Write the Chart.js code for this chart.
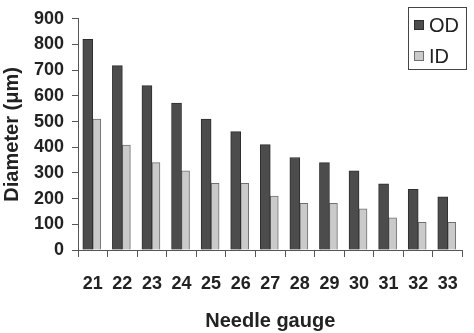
<!DOCTYPE html>
<html>
<head>
<meta charset="utf-8">
<script src="https://cdn.jsdelivr.net/npm/chart.js"></script>
<style>
  html, body { margin: 0; padding: 0; background: #fff; }
  #wrap { width: 474px; height: 333px; position: relative; }
</style>
</head>
<body>
<div id="wrap"><canvas id="chart"></canvas></div>
<script>
// Needle gauge vs diameter
const gauges = ["21", "22", "23", "24", "25", "26", "27", "28", "29", "30", "31", "32", "33"]
const outerDiameter = [820, 718, 640, 572, 510, 461, 410, 360, 340, 308, 258, 236, 207]
const innerDiameter = [510, 408, 340, 308, 260, 260, 210, 182, 182, 160, 125, 108, 108]
const seriesNames = ["OD", "ID"]
const yTicks = [0, 100, 200, 300, 400, 500, 600, 700, 800, 900]

const FONT = "'Liberation Sans', Arial, sans-serif"
const AXIS = "#555"

// legend drawn inside the plot, top right, with a frame
const boxLegend = {
  id: "boxLegend",
  afterDraw(chart) {
    const ctx = chart.ctx
    const x = 408, y = 7, w = 58, h = 62
    ctx.save()
    ctx.fillStyle = "#fff"
    ctx.fillRect(x, y, w, h)
    ctx.strokeStyle = "#444"
    ctx.lineWidth = 1
    ctx.strokeRect(x + 0.5, y + 0.5, w, h)
    chart.data.datasets.forEach((ds, i) => {
      const cy = y + 18 + i * 31
      ctx.fillStyle = ds.backgroundColor
      ctx.strokeStyle = ds.borderColor
      ctx.fillRect(x + 6, cy - 5, 10, 10)
      ctx.strokeRect(x + 6.5, cy - 4.5, 9, 9)
      ctx.fillStyle = "#222"
      ctx.font = "20px " + FONT
      ctx.textBaseline = "middle"
      ctx.fillText(ds.label, x + 21, cy + 1)
    })
    ctx.restore()
  },
}

new Chart(document.getElementById("chart"), {
  type: "bar",
  data: {
    labels: gauges,
    datasets: [
      {
        label: seriesNames[0],
        data: outerDiameter,
        backgroundColor: "#4c4c4c",
        borderColor: "#2e2e2e",
        borderWidth: 1,
        barThickness: 10,
      },
      {
        label: seriesNames[1],
        data: innerDiameter,
        backgroundColor: "#cacaca",
        borderColor: "#707070",
        borderWidth: 1,
        barThickness: 8,
      },
    ],
  },
  options: {
    responsive: true,
    maintainAspectRatio: false,
    animation: false,
    layout: { padding: { top: 12, right: 6, left: 0, bottom: 0 } },
    plugins: {
      legend: { display: false },
      tooltip: { enabled: false },
    },
    scales: {
      x: {
        grid: { drawOnChartArea: false, offset: true, tickLength: 7, color: AXIS },
        border: { color: AXIS, width: 1 },
        ticks: { color: "#222", padding: 16, font: { family: FONT, size: 18, weight: "bold" } },
        title: {
          display: true,
          text: "Needle gauge",
          color: "#222",
          padding: { top: 0, bottom: 0 },
          font: { family: FONT, size: 20, weight: "bold" },
        },
        afterFit(scale) { scale.height = 83 },
      },
      y: {
        min: 0,
        max: 900,
        afterBuildTicks(scale) { scale.ticks = yTicks.map((v) => ({ value: v })) },
        grid: { drawOnChartArea: false, tickLength: 6, color: AXIS },
        border: { color: AXIS, width: 1 },
        ticks: { color: "#222", padding: 8, font: { family: FONT, size: 18, weight: "bold" } },
        title: {
          display: true,
          text: "Diameter (μm)",
          color: "#222",
          padding: { top: 0, bottom: 0 },
          font: { family: FONT, size: 20, weight: "bold" },
        },
        afterFit(scale) { scale.width = 78 },
      },
    },
  },
  plugins: [boxLegend],
})
</script>
</body>
</html>
